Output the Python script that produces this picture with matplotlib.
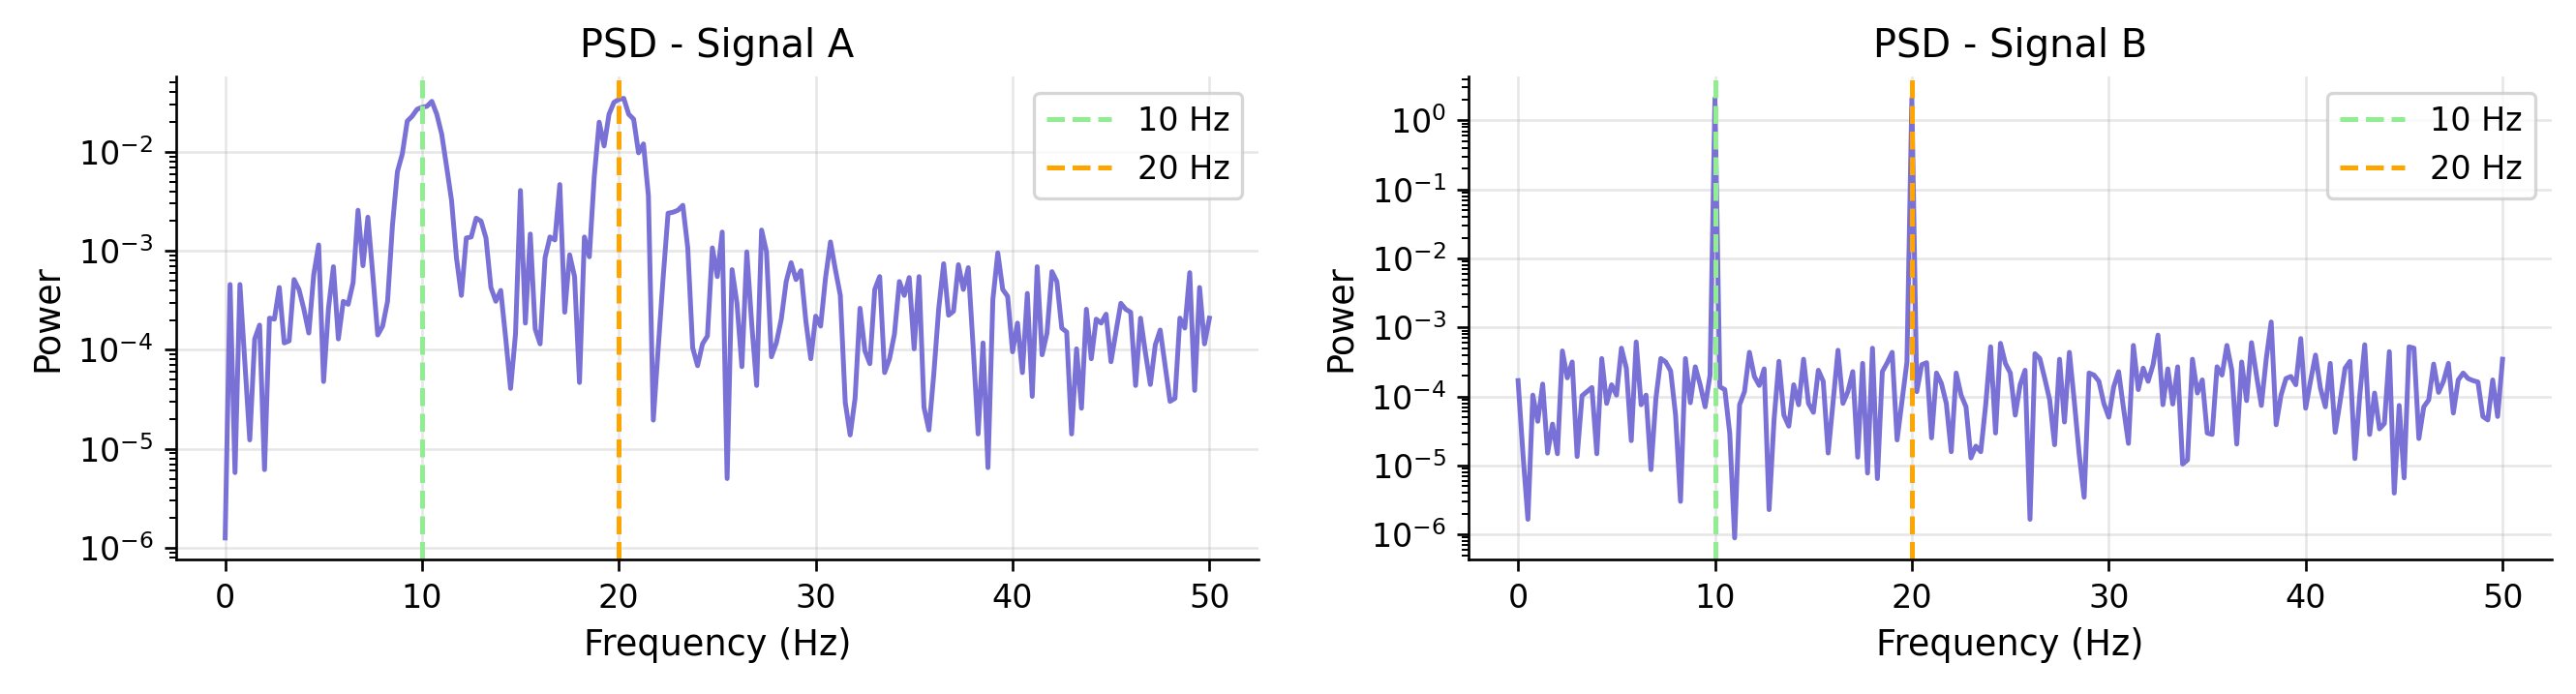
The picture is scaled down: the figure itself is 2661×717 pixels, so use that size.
import matplotlib
matplotlib.use("Agg")
import matplotlib.pyplot as plt
import numpy as np

# frequency grid (0 .. 50 Hz, 0.25 Hz bins)
freqs = np.linspace(0, 50, 201)

# log10 of the power
log_power_a = [
    -5.90, -3.34, -5.24, -3.34, -4.13, -4.91, -3.89, -3.75, -5.21, -3.68,
    -3.69, -3.37, -3.93, -3.91, -3.29, -3.39, -3.59, -3.83, -3.24, -2.94,
    -4.32, -3.58, -3.16, -3.89, -3.51, -3.54, -3.32, -2.59, -3.15, -2.66,
    -3.24, -3.85, -3.76, -3.51, -2.74, -2.20, -2.02, -1.69, -1.64, -1.57,
    -1.55, -1.54, -1.49, -1.62, -1.82, -2.15, -2.49, -3.07, -3.45, -2.87,
    -2.86, -2.67, -2.70, -2.87, -3.37, -3.51, -3.40, -3.88, -4.39, -3.84,
    -2.39, -3.73, -2.83, -3.79, -3.94, -3.07, -2.86, -2.89, -2.33, -3.62,
    -3.04, -3.26, -4.33, -2.86, -3.06, -2.25, -1.70, -1.94, -1.62, -1.50,
    -1.47, -1.46, -1.62, -1.67, -2.01, -1.92, -2.44, -4.71, -3.98, -3.27,
    -2.62, -2.61, -2.59, -2.54, -2.97, -3.98, -4.16, -3.94, -3.86, -2.97,
    -3.26, -2.81, -5.30, -3.19, -3.53, -4.17, -3.01, -3.74, -4.36, -2.79,
    -3.01, -4.07, -3.93, -3.69, -3.31, -3.12, -3.29, -3.20, -3.71, -4.09,
    -3.66, -3.76, -3.27, -2.91, -3.19, -3.45, -4.53, -4.86, -4.49, -3.58,
    -4.01, -4.14, -3.39, -3.26, -4.23, -4.09, -3.84, -3.31, -3.45, -3.27,
    -3.99, -3.26, -4.58, -4.81, -4.24, -3.58, -3.13, -3.65, -3.61, -3.14,
    -3.39, -3.17, -3.98, -4.85, -3.93, -5.19, -3.49, -3.02, -3.39, -3.46,
    -4.02, -3.73, -4.23, -3.43, -4.47, -3.16, -4.05, -3.83, -3.21, -3.31,
    -3.78, -3.82, -4.85, -3.99, -4.59, -3.59, -4.09, -3.69, -3.73, -3.64,
    -4.12, -3.82, -3.53, -3.59, -3.62, -4.36, -3.68, -4.03, -4.35, -3.95,
    -3.80, -4.16, -4.52, -4.49, -3.68, -3.78, -3.22, -4.41, -3.37, -3.94,
    -3.68,
]

log_power_b = [
    -3.77, -4.84, -5.78, -3.98, -4.36, -3.82, -4.82, -4.40, -4.83, -3.34,
    -3.73, -3.50, -4.87, -3.99, -3.93, -3.87, -4.83, -3.45, -4.10, -3.83,
    -3.98, -3.30, -3.59, -4.64, -3.21, -4.12, -3.98, -5.06, -4.03, -3.45,
    -3.50, -3.63, -4.27, -5.52, -3.45, -4.09, -3.57, -3.83, -4.15, -3.69,
    0.32, -3.86, -3.90, -4.53, -6.05, -4.12, -3.93, -3.36, -3.71, -3.84,
    -3.60, -5.64, -4.34, -3.49, -4.27, -4.43, -3.83, -4.12, -3.46, -4.10,
    -4.23, -3.62, -3.78, -4.82, -4.07, -3.33, -4.10, -3.93, -3.64, -4.88,
    -3.52, -5.11, -3.30, -5.19, -3.64, -3.51, -3.36, -4.63, -4.07, -3.50,
    0.32, -3.93, -3.54, -3.51, -4.60, -3.66, -3.81, -4.10, -4.80, -3.66,
    -3.98, -4.15, -4.89, -4.72, -4.80, -4.12, -3.28, -4.53, -3.23, -3.52,
    -3.66, -4.27, -3.83, -3.62, -5.78, -3.38, -3.45, -3.74, -4.05, -4.70,
    -3.46, -4.37, -3.36, -4.07, -4.84, -5.46, -3.66, -3.69, -3.78, -4.10,
    -4.30, -3.86, -3.64, -4.17, -4.68, -3.26, -3.90, -3.59, -3.78, -3.54,
    -3.11, -4.12, -3.60, -4.11, -3.57, -4.98, -4.92, -3.46, -3.95, -3.76,
    -4.53, -4.55, -3.57, -3.69, -3.26, -3.62, -4.69, -3.50, -4.06, -3.22,
    -3.69, -4.13, -3.45, -2.92, -4.41, -3.98, -3.74, -3.71, -3.83, -3.16,
    -4.17, -3.77, -3.40, -3.88, -4.15, -3.52, -4.52, -4.07, -3.59, -3.49,
    -4.90, -3.98, -3.25, -4.55, -3.95, -4.47, -4.39, -3.35, -5.40, -4.13,
    -5.18, -3.28, -3.30, -4.61, -4.15, -4.05, -3.53, -3.94, -3.78, -3.52,
    -4.24, -3.76, -3.66, -3.74, -3.77, -3.79, -4.29, -4.34, -3.76, -4.29,
    -3.46,
]

titles = ["PSD - Signal A", "PSD - Signal B"]
marker_freqs = [10, 20]
marker_labels = ["10 Hz", "20 Hz"]
marker_colors = ["lightgreen", "orange"]

dpi = 240
fig = plt.figure(figsize=(2661 / dpi, 717 / dpi), dpi=dpi)
ax_a = fig.add_axes([0.0683, 0.1932, 0.4203, 0.6967])
ax_b = fig.add_axes([0.5702, 0.1932, 0.4204, 0.6967])

for ax, logp, title in zip([ax_a, ax_b], [log_power_a, log_power_b], titles):
    ax.semilogy(freqs, 10 ** np.array(logp), color="#7a71d6", lw=1.5)
    for f, lab, c in zip(marker_freqs, marker_labels, marker_colors):
        ax.axvline(f, color=c, ls="--", lw=1.5, label=lab)
    ax.set_title(title, fontsize=12)
    ax.set_xlabel("Frequency (Hz)", fontsize=11)
    ax.set_ylabel("Power", fontsize=11)
    ax.grid(True, alpha=0.3)
    ax.legend(loc="upper right")
    ax.spines["top"].set_visible(False)
    ax.spines["right"].set_visible(False)

fig.savefig("out.png", dpi=dpi)
